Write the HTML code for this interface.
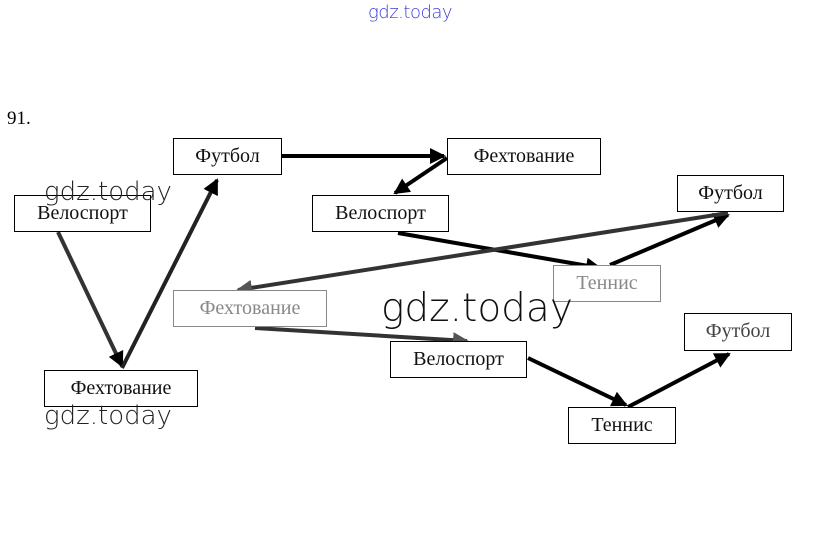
<!DOCTYPE html>
<html><head><meta charset="utf-8"><style>
body{margin:0;width:818px;height:546px;background:#fff;position:relative;overflow:hidden;font-family:"Liberation Serif",serif}
.b{position:absolute;border:1px solid #000;background:#fff;box-sizing:border-box;font-size:20px;text-align:center;line-height:35px;color:#111}
.f{border-color:#888;color:#888}
.w{position:absolute;font-family:"DejaVu Sans","Liberation Sans",sans-serif;color:#222;font-weight:200}
svg{position:absolute;left:0;top:0}
</style></head><body>
<div class="w" style="left:368px;top:2px;font-size:18px;color:#3b3bd6;letter-spacing:-0.5px">gdz.today</div>
<div style="position:absolute;left:7px;top:108px;font-size:19px">91.</div>
<svg width="818" height="546">
<defs><marker id="a" markerWidth="4" markerHeight="4" refX="3.5" refY="2" orient="auto" markerUnits="strokeWidth"><path d="M0,0 L4,2 L0,4 z" fill="#000"/></marker>
<marker id="g" markerWidth="4" markerHeight="4" refX="3.5" refY="2" orient="auto" markerUnits="strokeWidth"><path d="M0,0 L4,2 L0,4 z" fill="#555"/></marker></defs>
<g stroke="#000" stroke-width="4" fill="none">
<line x1="58" y1="232" x2="122" y2="366" marker-end="url(#a)" stroke="#333"/>
<line x1="122" y1="368" x2="217" y2="180" marker-end="url(#a)" stroke="#222"/>
<line x1="282" y1="156" x2="444" y2="156" marker-end="url(#a)"/>
<line x1="447" y1="158" x2="395" y2="193" marker-end="url(#a)"/>
<line x1="398" y1="233" x2="600" y2="268" marker-end="url(#a)"/>
<line x1="610" y1="265" x2="728" y2="215" marker-end="url(#a)"/>
<line x1="728" y1="213" x2="238" y2="290" marker-end="url(#g)" stroke="#333"/>
<line x1="255" y1="328" x2="467" y2="341" marker-end="url(#g)" stroke="#333"/>
<line x1="528" y1="358" x2="626" y2="405" marker-end="url(#a)"/>
<line x1="628" y1="407" x2="729" y2="354" marker-end="url(#a)"/>
</g></svg>
<div class="b" style="left:173px;top:138px;width:109px;height:37px">Футбол</div>
<div class="b" style="left:447px;top:138px;width:154px;height:37px">Фехтование</div>
<div class="b" style="left:14px;top:195px;width:137px;height:37px">Велоспорт</div>
<div class="b" style="left:312px;top:195px;width:137px;height:37px">Велоспорт</div>
<div class="b" style="left:677px;top:175px;width:107px;height:37px">Футбол</div>
<div class="b f" style="left:553px;top:265px;width:108px;height:37px">Теннис</div>
<div class="b f" style="left:173px;top:290px;width:154px;height:37px">Фехтование</div>
<div class="b" style="left:684px;top:313px;width:108px;height:38px;color:#444">Футбол</div>
<div class="b" style="left:390px;top:341px;width:137px;height:37px">Велоспорт</div>
<div class="b" style="left:44px;top:370px;width:154px;height:37px">Фехтование</div>
<div class="b" style="left:568px;top:407px;width:108px;height:37px">Теннис</div>
<div class="w" style="left:44px;top:177px;font-size:26px">gdz.today</div>
<div class="w" style="left:44px;top:401px;font-size:26px">gdz.today</div>
<div class="w" style="left:381px;top:286px;font-size:39px;color:#111">gdz.today</div>
</body></html>
